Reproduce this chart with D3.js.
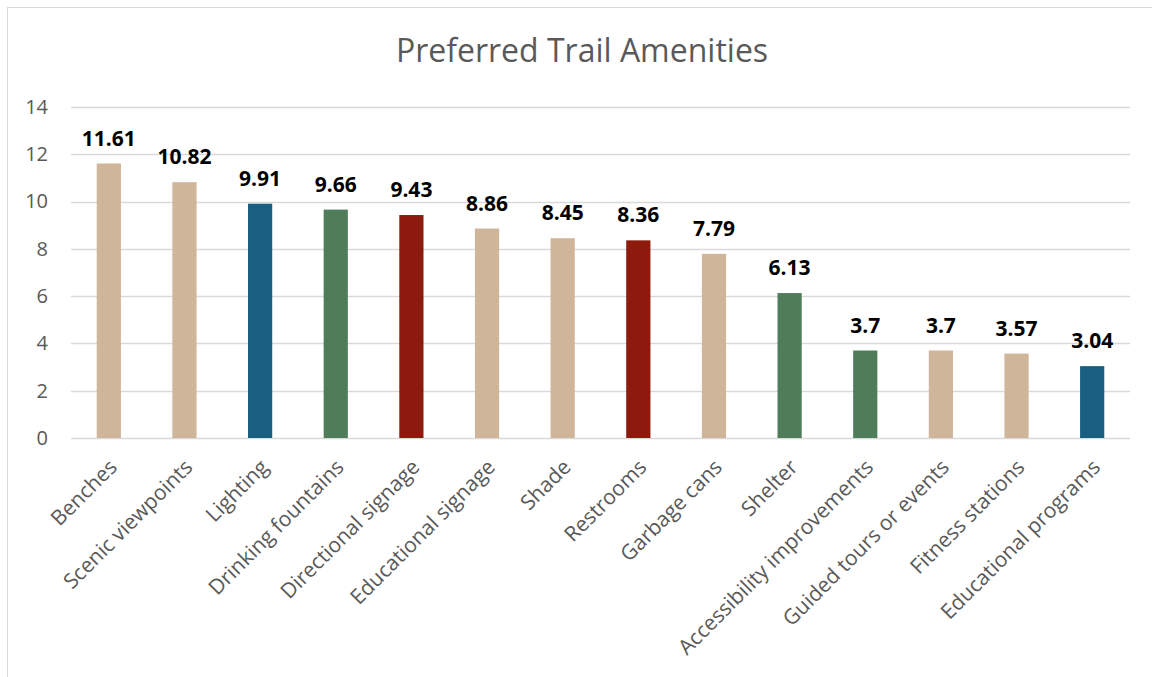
<!DOCTYPE html>
<html>
<head>
<meta charset="utf-8">
<script src="https://cdn.jsdelivr.net/npm/d3@7"></script>
<style>
	body { margin: 0; background: #fff; }
	text { font-family: "Open Sans", "Liberation Sans", sans-serif; }
</style>
</head>
<body>
<svg id="chart" width="1152" height="677"></svg>
<script>
var amenities = ["Benches", "Scenic viewpoints", "Lighting", "Drinking fountains", "Directional signage",
	"Educational signage", "Shade", "Restrooms", "Garbage cans", "Shelter",
	"Accessibility improvements", "Guided tours or events", "Fitness stations", "Educational programs"];
var scores = [11.61, 10.82, 9.91, 9.66, 9.43, 8.86, 8.45, 8.36, 7.79, 6.13, 3.7, 3.7, 3.57, 3.04];
var groups = ["tan", "tan", "blue", "green", "red", "tan", "tan", "red", "tan", "green", "green", "tan", "tan", "blue"];
var yTicks = [0, 2, 4, 6, 8, 10, 12, 14];

var palette = {tan: "#cfb59a", blue: "#185f80", green: "#4f7c59", red: "#8c1a0d"};

var svg = d3.select("#chart"),
	plotLeft = 71, plotRight = 1130, plotTop = 107, plotBottom = 438;

// chart frame
svg.append("rect")
	.attr("x", 7.5).attr("y", 7.5)
	.attr("width", 1160).attr("height", 700)
	.attr("fill", "none").attr("stroke", "#d9d9d9");

svg.append("text")
	.attr("x", 582).attr("y", 62)
	.attr("text-anchor", "middle")
	.attr("font-size", 32)
	.attr("fill", "#595959")
	.text("Preferred Trail Amenities");

var xscale = d3.scaleBand()
	.domain(amenities)
	.range([plotLeft, plotRight])
	.paddingInner(0.68)
	.paddingOuter(0.34);

var yscale = d3.scaleLinear()
	.domain([0, 14])
	.range([plotBottom, plotTop]);

// gridlines
svg.append("g").selectAll("line")
	.data(yTicks)
	.join("line")
	.attr("x1", plotLeft).attr("x2", plotRight)
	.attr("y1", function (d) { return Math.round(yscale(d)) + 0.5; })
	.attr("y2", function (d) { return Math.round(yscale(d)) + 0.5; })
	.attr("stroke", "#d9d9d9")
	.attr("stroke-width", 1.5);

var yaxis = d3.axisLeft(yscale)
	.tickValues(yTicks)
	.tickSize(0)
	.tickPadding(23);

var yg = svg.append("g").attr("transform", "translate(" + plotLeft + ",0)").call(yaxis);
yg.select(".domain").remove();
yg.selectAll("text").attr("font-size", 20).attr("fill", "#595959")
	.style("font-family", "'Open Sans', sans-serif");

// bars
svg.append("g").selectAll("rect")
	.data(amenities)
	.join("rect")
	.attr("x", function (d) { return xscale(d); })
	.attr("width", xscale.bandwidth())
	.attr("y", function (d, i) { return yscale(scores[i]); })
	.attr("height", function (d, i) { return plotBottom - yscale(scores[i]); })
	.attr("fill", function (d, i) { return palette[groups[i]]; });

// value labels
svg.append("g").selectAll("text")
	.data(amenities)
	.join("text")
	.attr("x", function (d) { return xscale(d) + xscale.bandwidth() / 2; })
	.attr("y", function (d, i) { return yscale(scores[i]) - 18; })
	.attr("text-anchor", "middle")
	.attr("font-size", 21)
	.attr("font-weight", "bold")
	.attr("fill", "#000")
	.text(function (d, i) { return scores[i]; });

// category labels
svg.append("g").selectAll("text")
	.data(amenities)
	.join("text")
	.attr("transform", function (d) {
		var cx = xscale(d) + xscale.bandwidth() / 2;
		return "translate(" + (cx - 1) + "," + (plotBottom + 20) + ") rotate(-45)";
	})
	.attr("text-anchor", "end")
	.attr("dy", "0.7em")
	.attr("font-size", 21)
	.attr("fill", "#595959")
	.text(function (d) { return d; });
</script>
</body>
</html>
